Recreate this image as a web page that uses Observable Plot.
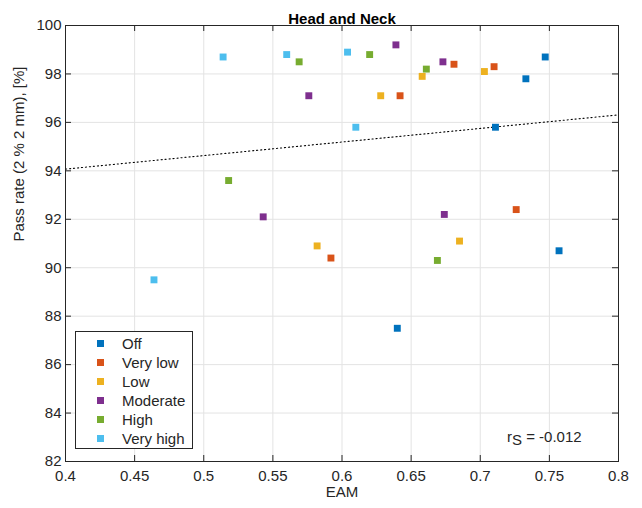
<!DOCTYPE html>
<html>
<head>
<meta charset="utf-8">
<script src="https://cdn.jsdelivr.net/npm/d3@7"></script>
<script src="https://cdn.jsdelivr.net/npm/@observablehq/plot@0.6"></script>
<style>
  body { margin: 0; background: #fff; }
  #wrap { position: relative; width: 642px; height: 508px; font-family: "Liberation Sans", Arial, sans-serif; }
  #wrap svg { position: absolute; left: 0; top: 0; }
  .legend { position: absolute; left: 75px; top: 331px; width: 118px; height: 118px; border: 1px solid #262626; background: #fff; box-sizing: border-box; }
  .legend .row { position: absolute; left: 0; height: 19px; display: flex; align-items: center; font-size: 15px; color: #262626; }
  .legend .sw { position: absolute; left: 21px; width: 7px; height: 7px; }
  .legend .lab { position: absolute; left: 46px; white-space: nowrap; }
  .rs { position: absolute; left: 507px; top: 428px; font-size: 15px; color: #262626; white-space: nowrap; }
  .rs sub { font-size: 15px; position: relative; top: 3px; vertical-align: baseline; }
</style>
</head>
<body>
<div id="wrap"></div>
<script>
const title = "Head and Neck";
const xLabel = "EAM";
const yLabel = "Pass rate (2 % 2 mm), [%]";
const categories = ["Off", "Very low", "Low", "Moderate", "High", "Very high"];
const colors = ["#0072BD", "#D95319", "#EDB120", "#7E2F8E", "#77AC30", "#4DBEEE"];
const xTicks = [0.4, 0.45, 0.5, 0.55, 0.6, 0.65, 0.7, 0.75, 0.8];
const yTicks = [82, 84, 86, 88, 90, 92, 94, 96, 98, 100];

const group = [
  "Off", "Off", "Off", "Off", "Off",
  "Very low", "Very low", "Very low", "Very low", "Very low",
  "Low", "Low", "Low", "Low", "Low",
  "Moderate", "Moderate", "Moderate", "Moderate", "Moderate",
  "High", "High", "High", "High", "High",
  "Very high", "Very high", "Very high", "Very high", "Very high"
];
const eam = [
  0.747, 0.733, 0.711, 0.757, 0.640,
  0.710, 0.681, 0.642, 0.726, 0.592,
  0.703, 0.658, 0.628, 0.685, 0.582,
  0.639, 0.673, 0.576, 0.543, 0.674,
  0.620, 0.569, 0.661, 0.518, 0.669,
  0.514, 0.560, 0.604, 0.610, 0.464
];
const passRate = [
  98.7, 97.8, 95.8, 90.7, 87.5,
  98.3, 98.4, 97.1, 92.4, 90.4,
  98.1, 97.9, 97.1, 91.1, 90.9,
  99.2, 98.5, 97.1, 92.1, 92.2,
  98.8, 98.5, 98.2, 93.6, 90.3,
  98.7, 98.8, 98.9, 95.8, 89.5
];
const trendEam = [0.4, 0.8];
const trendPass = [94.07, 96.31];
const rS = "-0.012";

const points = eam.map((x, i) => ({x, y: passRate[i], g: group[i]}));
const trend = trendEam.map((x, i) => ({x, y: trendPass[i]}));

const W = 642, H = 508;
const mL = 65, mR = 24, mT = 25, mB = 47;
const innerH = H - mT - mB;
const innerW = W - mL - mR;
const tick = 6;
const axisColor = "#262626";
const font = "'Liberation Sans', Arial, sans-serif";

const chart = Plot.plot({
  width: W, height: H,
  marginLeft: mL, marginRight: mR, marginTop: mT, marginBottom: mB,
  style: {fontFamily: font, fontSize: "15px", color: axisColor, background: "white", overflow: "visible"},
  x: {domain: [0.4, 0.8]},
  y: {domain: [82, 100]},
  color: {domain: categories, range: colors},
  marks: [
    Plot.gridX(xTicks, {stroke: "#e3e3e3", strokeOpacity: 1}),
    Plot.gridY(yTicks, {stroke: "#e3e3e3", strokeOpacity: 1}),
    Plot.axisX(xTicks, {tickSize: 0, tickPadding: 9, tickFormat: d => String(d), label: null, fontSize: 15, fill: axisColor}),
    Plot.axisY(yTicks, {tickSize: 0, tickPadding: 4, tickFormat: d => String(d), label: null, fontSize: 15, fill: axisColor}),
    Plot.tickX(xTicks, {x: d => d, stroke: axisColor, insetTop: innerH - tick}),
    Plot.tickX(xTicks, {x: d => d, stroke: axisColor, insetBottom: innerH - tick}),
    Plot.tickY(yTicks, {y: d => d, stroke: axisColor, insetRight: innerW - tick}),
    Plot.tickY(yTicks, {y: d => d, stroke: axisColor, insetLeft: innerW - tick}),
    Plot.line(trend, {x: "x", y: "y", stroke: "black", strokeWidth: 1.1, strokeDasharray: "1.2,2.8"}),
    Plot.dot(points, {x: "x", y: "y", fill: "g", symbol: "square", r: 3.9, stroke: "none"}),
    Plot.frame({stroke: axisColor, strokeWidth: 1}),
    Plot.text([title], {frameAnchor: "top", dy: -12, fontWeight: "bold", fontSize: 15, fill: "black"}),
    Plot.text([xLabel], {frameAnchor: "bottom", dy: 35, fontSize: 15, fill: axisColor}),
    Plot.text([yLabel], {frameAnchor: "left", dx: -46, dy: -2, rotate: -90, fontSize: 15, fill: axisColor})
  ]
});

const wrap = document.getElementById("wrap");
wrap.appendChild(chart);

const legend = document.createElement("div");
legend.className = "legend";
categories.forEach((c, i) => {
  const row = document.createElement("div");
  row.className = "row";
  row.style.top = (2 + 19 * i) + "px";
  const sw = document.createElement("span");
  sw.className = "sw";
  sw.style.background = colors[i];
  const lab = document.createElement("span");
  lab.className = "lab";
  lab.textContent = c;
  row.appendChild(sw);
  row.appendChild(lab);
  legend.appendChild(row);
});
wrap.appendChild(legend);

const rs = document.createElement("div");
rs.className = "rs";
rs.innerHTML = "r<sub>S</sub> = " + rS;
wrap.appendChild(rs);
</script>
</body>
</html>
